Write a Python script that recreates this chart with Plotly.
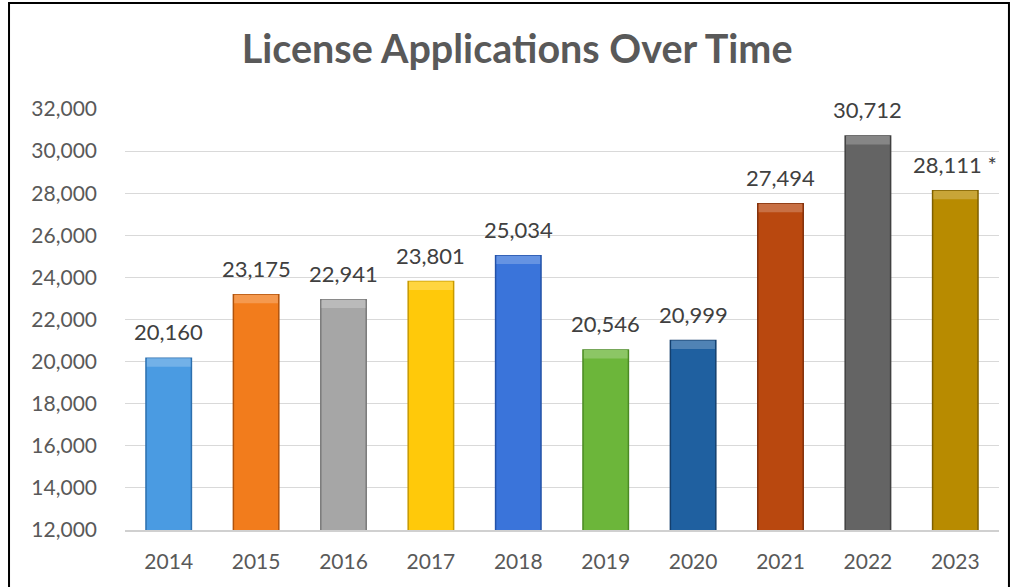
import plotly.graph_objects as go

years = ["2014", "2015", "2016", "2017", "2018", "2019", "2020", "2021", "2022", "2023"]
applications = [20160, 23175, 22941, 23801, 25034, 20546, 20999, 27494, 30712, 28111]
label_suffix = ["", "", "", "", "", "", "", "", "", " *"]
bar_colors = ["#4a9be2", "#f27c1c", "#a6a6a6", "#ffc90a", "#3a74da", "#6cb63a",
              "#1f60a0", "#b9480f", "#646464", "#b88b00"]
edge_colors = ["#2d6fae", "#b0530c", "#7a7a7a", "#c79a00", "#2452a8", "#4b8a24",
               "#143f6d", "#82300a", "#404040", "#7e5f00"]
title_text = "License Applications Over Time"
FONT = "Lato, Open Sans, sans-serif"


def lighten(hex_color, amount):
    h = hex_color.lstrip("#")
    r, g, b = (int(h[i:i + 2], 16) for i in (0, 2, 4))
    r, g, b = (round(c + (255 - c) * amount) for c in (r, g, b))
    return f"#{r:02x}{g:02x}{b:02x}"


top_colors = [lighten(c, 0.22) for c in bar_colors]
labels = [f"{v:,}{s}" for v, s in zip(applications, label_suffix)]
bevel = 400  # depth of the light top bevel, in data units

fig = go.Figure()
fig.add_trace(go.Bar(
    x=years, y=applications,
    marker=dict(color=bar_colors, line=dict(color=edge_colors, width=1.5)),
    width=0.52, hoverinfo="x+y",
))
fig.add_trace(go.Bar(
    x=years, y=[bevel] * len(years), base=[v - bevel for v in applications],
    marker=dict(color=top_colors, line=dict(width=0)),
    width=0.50, hoverinfo="skip",
))

for i, (v, t) in enumerate(zip(applications, labels)):
    fig.add_annotation(x=i, y=v, xref="x", yref="y", text=t, showarrow=False,
                       yanchor="bottom", yshift=11,
                       font=dict(family=FONT, size=22, color="#404040"))

fig.update_layout(
    width=1014, height=587,
    paper_bgcolor="white", plot_bgcolor="white",
    barmode="overlay",
    margin=dict(l=125, r=15, t=109, b=57, autoexpand=False),
    title=dict(text=f"<b>{title_text}</b>", x=0.51, xref="container", xanchor="center",
               y=0.9165, yref="container", yanchor="middle",
               font=dict(family=FONT, size=39.5, color="#595959")),
    showlegend=False,
    xaxis=dict(type="category", categoryorder="array", categoryarray=years,
               range=[-0.5, len(years) - 0.5], autorange=False,
               showgrid=False, showline=True, linecolor="#d0d0d0", linewidth=1.5,
               tickfont=dict(family=FONT, size=21, color="#595959"),
               ticks="", ticklabelstandoff=12, automargin=False),
    yaxis=dict(range=[12000, 32000], autorange=False, dtick=2000, tickformat=",d",
               showgrid=True, gridcolor="#d9d9d9", gridwidth=1, zeroline=False,
               tickfont=dict(family=FONT, size=21, color="#595959"),
               ticks="", ticklabelstandoff=27, automargin=False),
)

# chart border (left, top, right edges of the chart frame)
fig.add_shape(type="rect", xref="paper", yref="paper",
              x0=-0.1327, x1=1.0114, y0=-0.2, y1=1.2518,
              line=dict(color="black", width=2), fillcolor="rgba(0,0,0,0)", layer="above")

fig.write_html("out.html", config={"displayModeBar": False},
               post_script="document.body.style.margin='0';")
